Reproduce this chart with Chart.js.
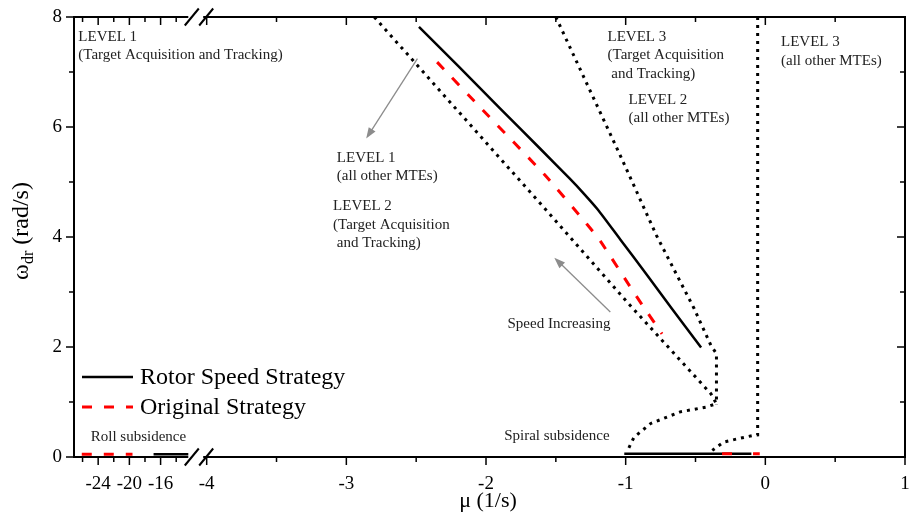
<!DOCTYPE html>
<html>
<head>
<meta charset="utf-8">
<script src="https://cdn.jsdelivr.net/npm/chart.js@4.4.1/dist/chart.umd.min.js"></script>
<style>
  body { margin: 0; background: #fff; }
  #wrap { width: 913px; height: 517px; position: relative; }
</style>
</head>
<body>
<div id="wrap"><canvas id="chart"></canvas></div>
<script>
// ---------- data: mu (1/s) vs omega_dr (rad/s) ----------
const rotorMu = [-2.48, -2.2, -1.9, -1.61, -1.4, -1.3, -1.2, -1.04, -0.85, -0.67, -0.46];
const rotorW = [7.82, 7.11, 6.34, 5.6, 5.06, 4.79, 4.5, 3.96, 3.32, 2.7, 1.99];

const origMu = [-2.35, -2.02, -1.58, -1.28, -1.18, -0.92, -0.74];
const origW = [7.18, 6.3, 5.13, 4.24, 3.92, 2.91, 2.24];

// roll / spiral subsidence roots (almost on the real axis)
const rollRotorMu = [-16.9, -12.45];
const rollRotorW = [0.05, 0.05];
const rollOrigMu = [-26.1, -19.6];
const rollOrigW = [0.05, 0.05];
const spiralRotorMu = [-1.01, -0.1];
const spiralRotorW = [0.06, 0.06];
const spiralOrigMu = [-0.31, -0.225, -0.15, -0.088, -0.04];
const spiralOrigW = [0.06, 0.06, null, 0.06, 0.06];

// handling quality level boundaries
const lvl12Mu = [-2.8, -1.78, -1.6, -0.98, -0.39, -0.35, -0.42, -0.61, -0.82, -0.94, -0.98];
const lvl12W = [8.0, 5.09, 4.58, 2.79, 1.15, 0.97, 0.91, 0.82, 0.61, 0.36, 0.15];
const lvl23Mu = [-1.5, -1.04, -0.78, -0.51, -0.39, -0.35, -0.35];
const lvl23W = [8.0, 5.49, 4.03, 2.7, 2.03, 1.88, 0.95];
const lvl3Mu = [-0.055, -0.055, -0.09, -0.2, -0.3, -0.38];
const lvl3W = [8.0, 0.4, 0.39, 0.33, 0.27, 0.12];

// tick marks
const xTickVals = [-26, -24, -22, -20, -18, -16, -14, -4, -3.5, -3, -2.5, -2, -1.5, -1, -0.5, 0, 0.5, 1];
const xTickLabels = ["", "-24", "", "-20", "", "-16", "", "-4", "", "-3", "", "-2", "", "-1", "", "0", "", "1"];
const yTickVals = [0, 1, 2, 3, 4, 5, 6, 7, 8];

// ---------- broken x axis ----------
// values left of the break get squeezed into the left edge of the axis
const SQUEEZE = 7.8 / 139.6;
const SQUEEZE_OFFSET = -3.436;
function axisPos(mu) {
  return mu >= -5 ? mu : mu * SQUEEZE + SQUEEZE_OFFSET;
}

const SERIF = "'Liberation Serif', 'Times New Roman', serif";

function series(label, xs, ys, style) {
  return {
    label: label,
    data: xs.map((v, i) => ({ x: axisPos(v), y: ys[i] })),
    showLine: true,
    pointRadius: 0,
    fill: false,
    ...style,
  };
}

const solid = { borderColor: "#000", borderWidth: 2.5 };
const redDash = { borderColor: "#ff0000", borderWidth: 3, borderDash: [10, 12] };
const dotted = { borderColor: "#000", borderWidth: 3, borderDash: [3, 5] };

const datasets = [
  series("Original Strategy", origMu, origW, { ...redDash, tension: 0.2, order: 1 }),
  series("Original roll", rollOrigMu, rollOrigW, { ...redDash, order: 1 }),
  series("Original spiral", spiralOrigMu, spiralOrigW, { ...redDash, order: 1 }),
  series("Rotor Speed Strategy", rotorMu, rotorW, { ...solid, tension: 0.2, order: 2 }),
  series("Rotor roll", rollRotorMu, rollRotorW, { ...solid, order: 2 }),
  series("Rotor spiral", spiralRotorMu, spiralRotorW, { ...solid, order: 2 }),
  series("Level 1/2", lvl12Mu, lvl12W, { ...dotted, order: 3 }),
  series("Level 2/3", lvl23Mu, lvl23W, { ...dotted, order: 3 }),
  series("Level 3", lvl3Mu, lvl3W, { ...dotted, order: 3 }),
];

// ---------- annotations (axis units, x already on the drawn axis) ----------
const notes = [
  { x: -4.919, y: 7.564, lh: 18.5, lines: ["LEVEL 1", "(Target Acquisition and Tracking)"] },
  { x: -3.068, y: 5.364, lh: 18.5, lines: ["LEVEL 1", "(all other MTEs)"] },
  { x: -3.095, y: 4.485, lh: 18.5, lines: ["LEVEL 2", "(Target Acquisition", " and Tracking)"] },
  { x: -1.13, y: 7.564, lh: 18.3, lines: ["LEVEL 3", "(Target Acquisition", " and Tracking)"] },
  { x: -0.979, y: 6.413, lh: 17.7, lines: ["LEVEL 2", "(all other MTEs)"] },
  { x: 0.112, y: 7.467, lh: 19, lines: ["LEVEL 3", "(all other MTEs)"] },
  { x: -1.846, y: 2.345, lh: 18, lines: ["Speed Increasing"] },
  { x: -4.83, y: 0.285, lh: 18, lines: ["Roll subsidence"] },
  { x: -1.87, y: 0.304, lh: 18, lines: ["Spiral subsidence"] },
];
const arrows = [
  { from: [-2.491, 7.244], to: [-2.858, 5.789] },
  { from: [-1.11, 2.636], to: [-1.511, 3.625] },
];

function seg(ctx, x1, y1, x2, y2) {
  ctx.beginPath();
  ctx.moveTo(x1, y1);
  ctx.lineTo(x2, y2);
  ctx.stroke();
}

const framePlugin = {
  id: "frame",
  afterDraw(chart) {
    const { ctx, chartArea: a } = chart;
    const xs = chart.scales.x;
    const ys = chart.scales.y;
    ctx.save();
    ctx.strokeStyle = "#000";
    ctx.lineWidth = 2;
    ctx.lineCap = "butt";

    // axis lines with the break
    const leftEnd = xs.getPixelForValue(axisPos(-12.45));
    const mainStart = xs.getPixelForValue(-4.025);
    [a.top, a.bottom].forEach((yy) => {
      seg(ctx, a.left, yy, leftEnd, yy);
      seg(ctx, mainStart, yy, a.right, yy);
      [leftEnd + 3.5, mainStart + 3].forEach((cx) => seg(ctx, cx - 7, yy + 8.5, cx + 7, yy - 8.5));
    });
    seg(ctx, a.left, a.top - 1, a.left, a.bottom + 1);
    seg(ctx, a.right, a.top - 1, a.right, a.bottom + 1);

    // tick marks: bottom/left outward, top/right inward
    ctx.lineWidth = 1.5;
    xTickVals.forEach((v, i) => {
      const px = xs.getPixelForValue(axisPos(v));
      const len = xTickLabels[i] ? 8 : 5;
      seg(ctx, px, a.bottom, px, a.bottom + len);
      seg(ctx, px, a.top, px, a.top + len);
    });
    yTickVals.forEach((v) => {
      const py = ys.getPixelForValue(v);
      const len = v % 2 === 0 ? 8 : 5;
      seg(ctx, a.left - len, py, a.left, py);
      seg(ctx, a.right - len, py, a.right, py);
    });

    // axis titles
    ctx.fillStyle = "#000";
    ctx.textBaseline = "alphabetic";
    ctx.font = "22px " + SERIF;
    ctx.textAlign = "center";
    ctx.fillText("\u03bc (1/s)", 488, 507);

    ctx.save();
    ctx.translate(28, 231);
    ctx.rotate(-Math.PI / 2);
    ctx.textAlign = "left";
    ctx.font = "24px " + SERIF;
    const w1 = ctx.measureText("\u03c9").width;
    const w3 = ctx.measureText(" (rad/s)").width;
    ctx.font = "16px " + SERIF;
    const w2 = ctx.measureText("dr").width;
    let sx = -(w1 + w2 + w3) / 2;
    ctx.font = "24px " + SERIF;
    ctx.fillText("\u03c9", sx, 0);
    ctx.font = "16px " + SERIF;
    ctx.fillText("dr", sx + w1, 5);
    ctx.font = "24px " + SERIF;
    ctx.fillText(" (rad/s)", sx + w1 + w2, 0);
    ctx.restore();

    // text notes
    ctx.font = "15px " + SERIF;
    ctx.fillStyle = "#222";
    ctx.textAlign = "left";
    notes.forEach((n) => {
      const px = xs.getPixelForValue(n.x);
      const py = ys.getPixelForValue(n.y);
      n.lines.forEach((t, i) => ctx.fillText(t, px, py + i * n.lh));
    });

    // gray arrows
    ctx.strokeStyle = "#8c8c8c";
    ctx.fillStyle = "#8c8c8c";
    ctx.lineWidth = 1.3;
    arrows.forEach((ar) => {
      const x1 = xs.getPixelForValue(ar.from[0]);
      const y1 = ys.getPixelForValue(ar.from[1]);
      const x2 = xs.getPixelForValue(ar.to[0]);
      const y2 = ys.getPixelForValue(ar.to[1]);
      const ang = Math.atan2(y2 - y1, x2 - x1);
      seg(ctx, x1, y1, x2 - 6 * Math.cos(ang), y2 - 6 * Math.sin(ang));
      ctx.beginPath();
      ctx.moveTo(x2, y2);
      ctx.lineTo(x2 - 11 * Math.cos(ang) + 4 * Math.sin(ang), y2 - 11 * Math.sin(ang) - 4 * Math.cos(ang));
      ctx.lineTo(x2 - 11 * Math.cos(ang) - 4 * Math.sin(ang), y2 - 11 * Math.sin(ang) + 4 * Math.cos(ang));
      ctx.closePath();
      ctx.fill();
    });

    // legend (bottom left inside the plot)
    const legendItems = [datasets[3], datasets[0]];
    ctx.font = "24px " + SERIF;
    ctx.fillStyle = "#000";
    ctx.textBaseline = "middle";
    legendItems.forEach((d, i) => {
      const ly = a.bottom - 80 + i * 30;
      ctx.strokeStyle = d.borderColor;
      ctx.lineWidth = d.borderWidth;
      ctx.setLineDash(d.borderDash || []);
      seg(ctx, a.left + 8, ly, a.left + 59, ly);
      ctx.setLineDash([]);
      ctx.fillText(d.label, a.left + 66, ly + 1);
    });
    ctx.restore();
  },
};

Chart.defaults.font.family = SERIF;
Chart.defaults.color = "#000";

new Chart(document.getElementById("chart"), {
  type: "scatter",
  data: { datasets: datasets },
  options: {
    responsive: true,
    maintainAspectRatio: false,
    animation: false,
    layout: { padding: { left: 0, right: 8, top: 17, bottom: 0 } },
    plugins: { legend: { display: false }, tooltip: { enabled: false } },
    scales: {
      x: {
        type: "linear",
        min: -4.95,
        max: 1,
        grid: { display: false, drawTicks: false },
        border: { display: false },
        afterBuildTicks: (scale) => {
          scale.ticks = xTickVals.map((v) => ({ value: axisPos(v) }));
        },
        afterFit: (scale) => {
          scale.height = 60;
          scale.paddingLeft = 0;
          scale.paddingRight = 0;
        },
        ticks: {
          autoSkip: false,
          maxRotation: 0,
          minRotation: 0,
          padding: 16,
          font: { size: 19 },
          callback: (value, index) => xTickLabels[index],
        },
      },
      y: {
        min: 0,
        max: 8,
        grid: { display: false, drawTicks: false },
        border: { display: false },
        afterFit: (scale) => {
          scale.width = 74;
          scale.paddingTop = 0;
          scale.paddingBottom = 0;
        },
        ticks: { stepSize: 2, padding: 12, font: { size: 19 } },
      },
    },
  },
  plugins: [framePlugin],
});
</script>
</body>
</html>
